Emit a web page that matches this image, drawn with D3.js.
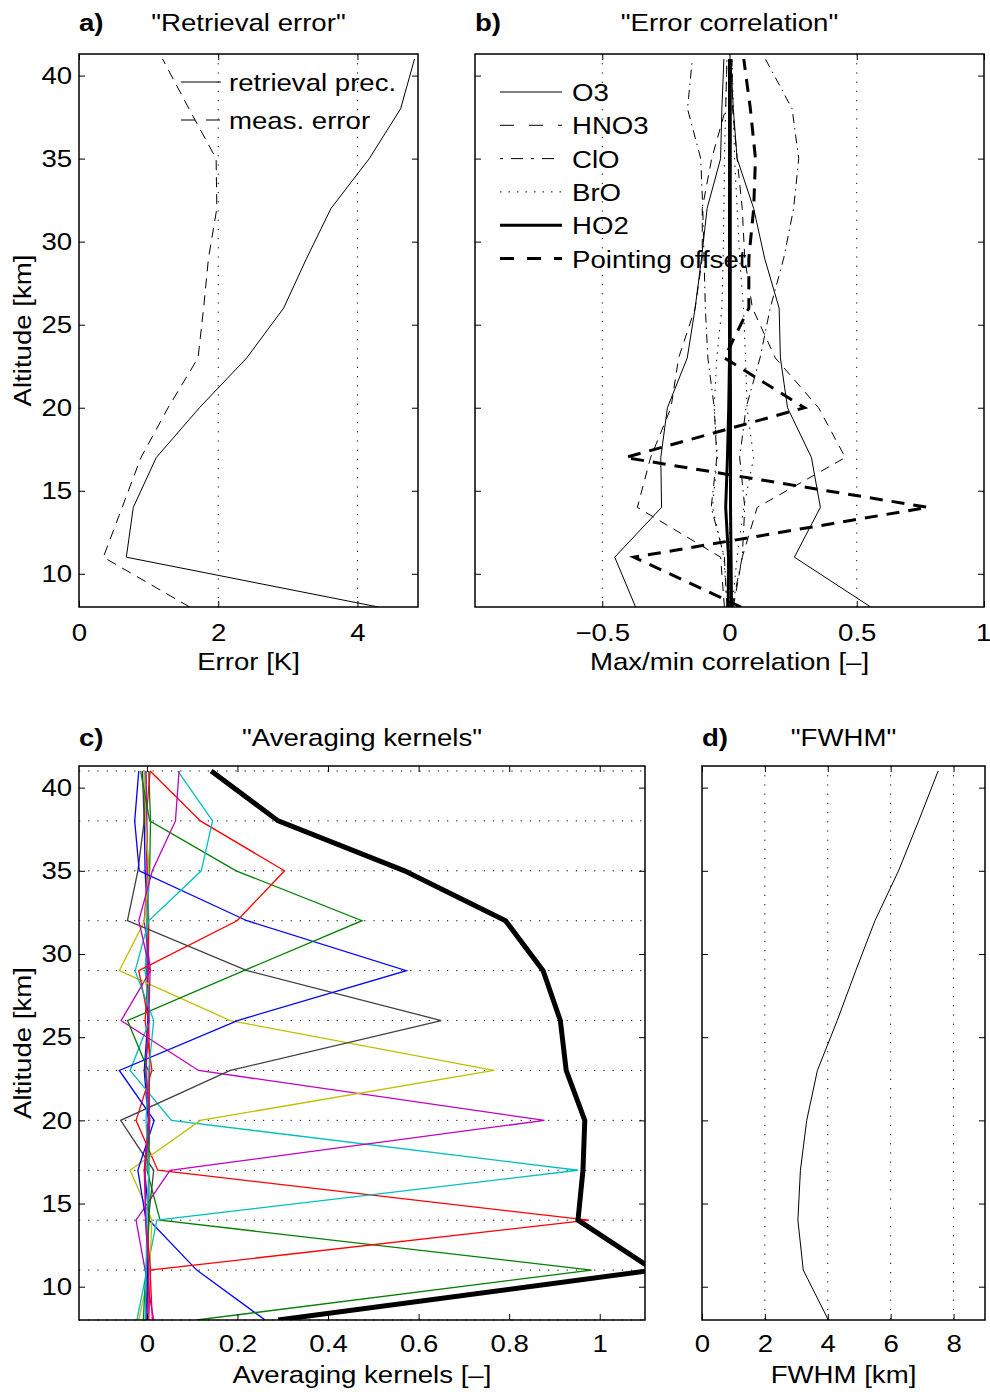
<!DOCTYPE html>
<html>
<head>
<meta charset="utf-8">
<script src="https://cdn.jsdelivr.net/npm/d3@7"></script>
<style>
  body { margin: 0; background: #fff; }
  svg { display: block; }
  text { font-family: "Liberation Sans", Arial, Helvetica, sans-serif; fill: #000; }
</style>
</head>
<body>
<svg id="fig" width="990" height="1392"></svg>
<script>
// ---------- data ----------
// retrieval grid (km)
const altitudes = [8, 11, 14, 17, 20, 23, 26, 29, 32, 35, 38, 41];
const altitudeTicks = [10, 15, 20, 25, 30, 35, 40];

// a) retrieval error [K]
const retrievalPrec = [4.30, 0.68, 0.78, 1.11, 1.73, 2.41, 2.94, 3.27, 3.62, 4.17, 4.62, 4.82];
const measError     = [1.59, 0.35, 0.62, 0.89, 1.28, 1.71, 1.79, 1.86, 1.98, 1.97, 1.58, 1.20];
const errorTicks = [0, 2, 4];

// b) max/min error correlation with interfering quantities
const o3Min   = [-0.369, -0.451, -0.267, -0.270, -0.244, -0.166, -0.135, -0.110, -0.088, -0.035, -0.030, -0.022];
const o3Max   = [0.555, 0.255, 0.357, 0.322, 0.228, 0.200, 0.195, 0.138, 0.095, 0.030, 0.015, 0.005];
const hno3Min = [-0.020, -0.035, -0.362, -0.310, -0.230, -0.200, -0.135, -0.107, -0.107, -0.070, -0.015, -0.010];
const hno3Max = [0.015, 0.050, 0.109, 0.455, 0.350, 0.180, 0.090, 0.060, 0.050, 0.030, 0.012, 0.010];
const cloMin  = [-0.010, -0.020, -0.072, -0.050, -0.060, -0.085, -0.095, -0.100, -0.105, -0.113, -0.165, -0.146];
const cloMax  = [0.010, 0.050, 0.060, 0.040, 0.065, 0.120, 0.160, 0.213, 0.252, 0.272, 0.246, 0.141];
const broMin  = [-0.010, -0.022, -0.067, -0.048, -0.060, -0.050, -0.030, -0.025, -0.022, -0.020, -0.015, -0.010];
const broMax  = [0.010, 0.030, 0.056, 0.095, 0.069, 0.063, 0.055, 0.040, 0.030, 0.020, 0.015, 0.010];
const ho2Min  = [-0.005, -0.004, -0.015, -0.008, -0.003, 0.000, 0.000, 0.000, 0.000, 0.000, 0.000, 0.000];
const ho2Max  = [0.008, 0.006, 0.004, 0.004, 0.004, 0.003, 0.003, 0.003, 0.003, 0.003, 0.003, 0.003];
const pointingOffset = [0.045, -0.375, 0.780, -0.410, 0.295, -0.020, 0.076, 0.076, 0.095, 0.102, 0.082, 0.056];
const corrTicks = [-0.5, 0, 0.5, 1];
const corrGrid = [-0.5, 0, 0.5];

// c) averaging kernels, one array per kernel (named by nominal altitude)
const kernel08 = [0.261, 0.110, 0.005, -0.005, 0.003, -0.006, 0.002, 0.000, 0.002, -0.004, -0.006, -0.005];
const kernel11 = [0.110, 0.982, 0.029, 0.000, 0.006, -0.004, 0.004, 0.002, 0.000, 0.006, 0.008, 0.004];
const kernel14 = [0.012, 0.007, 0.976, 0.024, -0.024, 0.011, -0.004, 0.003, 0.004, 0.000, -0.002, 0.007];
const kernel17 = [-0.022, 0.000, 0.022, 0.952, 0.054, -0.037, 0.006, -0.004, 0.002, 0.004, -0.003, -0.002];
const kernel20 = [0.015, -0.004, -0.024, 0.051, 0.878, 0.114, -0.057, 0.008, -0.006, 0.002, 0.000, -0.002];
const kernel23 = [-0.018, 0.006, 0.011, -0.037, 0.118, 0.766, 0.184, -0.061, -0.005, 0.004, -0.003, -0.006];
const kernel26 = [-0.003, 0.002, 0.003, 0.015, -0.058, 0.184, 0.650, 0.221, -0.043, -0.020, -0.006, -0.010];
const kernel29 = [0.000, 0.002, -0.002, -0.020, 0.016, -0.061, 0.200, 0.573, 0.221, -0.017, -0.027, -0.018];
const kernel32 = [-0.008, -0.002, 0.005, 0.004, 0.006, 0.003, -0.043, 0.214, 0.475, 0.197, 0.006, -0.014];
const kernel35 = [0.004, 0.008, -0.002, -0.006, 0.004, 0.006, 0.004, -0.018, 0.199, 0.304, 0.118, 0.007];
const kernel38 = [-0.004, -0.002, 0.000, 0.004, -0.002, 0.004, 0.015, -0.026, 0.004, 0.120, 0.145, 0.068];
const kernel41 = [0.002, 0.004, -0.003, -0.004, 0.006, -0.002, 0.004, 0.007, -0.018, 0.012, 0.063, 0.071];
const measResponse = [0.290, 1.120, 0.952, 0.963, 0.967, 0.926, 0.913, 0.875, 0.792, 0.569, 0.290, 0.142];
const kernelTicks = [0, 0.2, 0.4, 0.6, 0.8, 1];

// d) vertical resolution
const fwhm = [4.02, 3.22, 3.05, 3.13, 3.33, 3.67, 4.30, 4.89, 5.50, 6.25, 6.89, 7.51];
const fwhmTicks = [0, 2, 4, 6, 8];
const fwhmGrid = [2, 4, 6, 8];

// ---------- drawing helpers ----------
const svg = d3.select('#fig');
const FONT = 24;
const SX = 1.15;          // slightly wide lettering
const ALT_DOMAIN = [8, 41.3];
let clipId = 0;

function label(g, x, y, s, o = {}) {
  return g.append('text')
    .attr('transform', `translate(${x},${y}) rotate(${o.rotate || 0}) scale(${SX},1)`)
    .attr('text-anchor', o.anchor || 'middle')
    .attr('font-size', o.size || FONT)
    .attr('font-weight', o.weight || 'normal')
    .text(s);
}

function makePanel(box, xDomain) {
  const x = d3.scaleLinear().domain(xDomain).range([box.left, box.right]);
  const y = d3.scaleLinear().domain(ALT_DOMAIN).range([box.bottom, box.top]);
  const g = svg.append('g');
  const id = 'clip' + (clipId++);
  svg.append('clipPath').attr('id', id).append('rect')
    .attr('x', box.left).attr('y', box.top)
    .attr('width', box.right - box.left).attr('height', box.bottom - box.top);
  const grid = g.append('g');
  const plot = g.append('g').attr('clip-path', `url(#${id})`);
  return { box, x, y, g, grid, plot };
}

function profile(p, values) {
  return d3.line().x(d => p.x(d[0])).y(d => p.y(d[1]))(d3.zip(values, altitudes));
}

function drawLine(p, values, style) {
  p.plot.append('path')
    .attr('d', profile(p, values))
    .attr('fill', 'none')
    .attr('stroke', style.color || '#000')
    .attr('stroke-width', style.width || 1)
    .attr('stroke-dasharray', style.dash || null)
    .attr('stroke-linejoin', 'miter');
}

function verticalGrid(p, xs) {
  p.grid.selectAll('line.vg').data(xs).enter().append('line')
    .attr('x1', d => p.x(d)).attr('x2', d => p.x(d))
    .attr('y1', p.box.top).attr('y2', p.box.bottom)
    .attr('stroke', '#000').attr('stroke-width', 1)
    .attr('stroke-dasharray', '1.2,8');
}

function horizontalGrid(p, ys) {
  p.grid.selectAll('line.hg').data(ys).enter().append('line')
    .attr('x1', p.box.left).attr('x2', p.box.right)
    .attr('y1', d => p.y(d)).attr('y2', d => p.y(d))
    .attr('stroke', '#000').attr('stroke-width', 1)
    .attr('stroke-dasharray', '1.2,8');
}

function axes(p, xTicks, xFmt, showYLabels, xPad) {
  const { box, x, y, g } = p;
  const ax = g.append('g');
  ax.append('g').attr('class', 'xbottom').attr('transform', `translate(0,${box.bottom})`)
    .call(d3.axisBottom(x).tickValues(xTicks).tickSizeInner(-6).tickSizeOuter(0)
      .tickPadding(xPad).tickFormat(xFmt));
  ax.append('g').attr('transform', `translate(0,${box.top})`)
    .call(d3.axisTop(x).tickValues(xTicks).tickSizeInner(-6).tickSizeOuter(0).tickFormat(''));
  ax.append('g').attr('transform', `translate(${box.left},0)`)
    .call(d3.axisLeft(y).tickValues(altitudeTicks).tickSizeInner(-6).tickSizeOuter(0)
      .tickPadding(6).tickFormat(showYLabels ? d3.format('d') : ''));
  ax.append('g').attr('transform', `translate(${box.right},0)`)
    .call(d3.axisRight(y).tickValues(altitudeTicks).tickSizeInner(-6).tickSizeOuter(0).tickFormat(''));
  ax.selectAll('.domain').remove();
  ax.selectAll('.tick line').attr('stroke', '#000').attr('stroke-width', 1);
  ax.selectAll('.tick text')
    .attr('font-size', FONT)
    .attr('fill', '#000')
    .attr('transform', `scale(${SX},1)`);
  // keep a label sitting on the figure's right edge inside the page
  ax.selectAll('.xbottom .tick text')
    .filter(function () { return x(d3.select(this.parentNode).datum()) + 9 > 990; })
    .attr('text-anchor', 'end').attr('x', 6);
  g.append('rect')
    .attr('x', box.left).attr('y', box.top)
    .attr('width', box.right - box.left).attr('height', box.bottom - box.top)
    .attr('fill', 'none').attr('stroke', '#000').attr('stroke-width', 1.5);
}

function titles(p, tag, title, xTitle, top, xTitleY, withYTitle) {
  const { box, g } = p;
  const cx = (box.left + box.right) / 2;
  label(g, box.left, top, tag, { anchor: 'start', weight: 'bold' });
  label(g, cx, top, title);
  label(g, cx, xTitleY, xTitle);
  if (withYTitle) {
    label(g, 31, (box.top + box.bottom) / 2, 'Altitude [km]', { rotate: -90 });
  }
}

function legend(g, x0, x1, xt, y0, dy, items) {
  items.forEach((it, i) => {
    const yy = y0 + i * dy;
    g.append('line')
      .attr('x1', x0).attr('x2', x1).attr('y1', yy).attr('y2', yy)
      .attr('stroke', '#000').attr('stroke-width', it.width || 1)
      .attr('stroke-dasharray', it.dash || null);
    label(g, xt, yy + 9, it.name, { anchor: 'start' });
  });
}

const fmtInt = d3.format('d');
const fmtG = d3.format('~g');

// ---------- a) Retrieval error ----------
const pa = makePanel({ left: 79, right: 418, top: 54, bottom: 607 }, [0, 4.87]);
verticalGrid(pa, [2, 4]);
drawLine(pa, retrievalPrec, { width: 1 });
drawLine(pa, measError, { width: 1, dash: '10,7' });
axes(pa, errorTicks, fmtInt, true, 17);
titles(pa, 'a)', '"Retrieval error"', 'Error [K]', 31, 670, true);
legend(pa.g, 181, 221, 229, 82, 38, [
  { name: 'retrieval prec.' },
  { name: 'meas. error', dash: '14,11' }
]);

// ---------- b) Error correlation ----------
const pb = makePanel({ left: 475, right: 984, top: 54, bottom: 607 }, [-1, 1]);
verticalGrid(pb, corrGrid);
const corrStyles = [
  { name: 'O3', series: [o3Min, o3Max], width: 1 },
  { name: 'HNO3', series: [hno3Min, hno3Max], width: 1, dash: '9,7' },
  { name: 'ClO', series: [cloMin, cloMax], width: 1, dash: '9,5,1.5,5' },
  { name: 'BrO', series: [broMin, broMax], width: 1, dash: '1.5,6' },
  { name: 'HO2', series: [ho2Min, ho2Max], width: 3 },
  { name: 'Pointing offset', series: [pointingOffset], width: 3, dash: '13,9' }
];
corrStyles.forEach(s => s.series.forEach(v => drawLine(pb, v, s)));
axes(pb, corrTicks, fmtG, false, 17);
titles(pb, 'b)', '"Error correlation"', 'Max/min correlation [–]', 31, 670, false);
legend(pb.g, 500, 562, 572, 92, 33.3, [
  { name: 'O3' },
  { name: 'HNO3', dash: '14,15' },
  { name: 'ClO', dash: '3,8,12,8' },
  { name: 'BrO', dash: '1.5,7' },
  { name: 'HO2', width: 3 },
  { name: 'Pointing offset', width: 3, dash: '14,13' }
]);

// ---------- c) Averaging kernels ----------
const pc = makePanel({ left: 79, right: 645, top: 766, bottom: 1320 }, [-0.15, 1.1]);
horizontalGrid(pc, altitudes);
const kernels = [kernel08, kernel11, kernel14, kernel17, kernel20, kernel23,
                 kernel26, kernel29, kernel32, kernel35, kernel38, kernel41];
const kernelColors = ['#0000ff', '#008000', '#ff0000', '#00bfbf', '#bf00bf', '#bfbf00', '#404040'];
kernels.forEach((k, i) => drawLine(pc, k, { color: kernelColors[i % kernelColors.length], width: 1.3 }));
drawLine(pc, measResponse, { width: 5 });
axes(pc, kernelTicks, fmtG, true, 15);
titles(pc, 'c)', '"Averaging kernels"', 'Averaging kernels [–]', 746, 1383, true);

// ---------- d) FWHM ----------
const pd = makePanel({ left: 702, right: 985, top: 766, bottom: 1320 }, [0, 9]);
verticalGrid(pd, fwhmGrid);
drawLine(pd, fwhm, { width: 1 });
axes(pd, fwhmTicks, fmtInt, false, 15);
titles(pd, 'd)', '"FWHM"', 'FWHM [km]', 746, 1383, false);
</script>
</body>
</html>
